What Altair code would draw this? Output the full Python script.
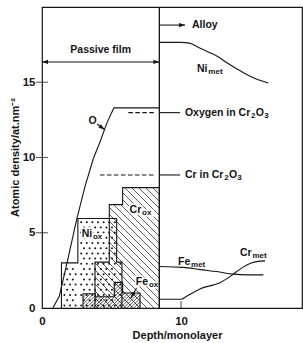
import altair as alt
import numpy as np
import pandas as pd

# ---------------- values ----------------
FILM_END = 8.44            # passive film / alloy boundary (monolayers)
O_IN_CR2O3 = 12.98         # oxygen density expected in Cr2O3
CR_IN_CR2O3 = 8.84         # chromium density expected in Cr2O3

o_depth = [0.78, 1.25, 1.80, 2.50, 3.10, 3.70, 4.20, 4.65, 5.17, 8.44]
o_density = [0.00, 0.80, 3.00, 5.90, 8.10, 9.95, 11.10, 12.25, 13.30, 13.30]

ni_met_depth = [8.44, 10.0, 10.6, 11.3, 12.0, 12.57, 13.3, 14.0, 14.96, 15.6, 16.28]
ni_met_density = [17.65, 17.65, 17.6, 17.3, 17.0, 16.75, 16.3, 15.9, 15.4, 15.15, 14.95]

fe_met_depth = [8.44, 10.17, 11.4, 12.57, 13.76, 14.8, 15.92]
fe_met_density = [2.76, 2.70, 2.55, 2.42, 2.25, 2.20, 2.20]

cr_met_depth = [8.44, 10.0, 10.4, 10.86, 11.4, 11.85, 12.3, 12.8, 13.3, 13.76, 14.2, 14.73, 15.1, 15.45, 16.04]
cr_met_density = [0.58, 0.58, 0.78, 1.02, 1.28, 1.42, 1.52, 1.68, 1.95, 2.25, 2.55, 2.85, 3.00, 3.08, 3.13]

ni_ox_edges = [1.40, 2.58, 5.37, 5.75]
ni_ox_density = [3.00, 5.95, 3.05]
cr_ox_edges = [3.81, 4.84, 5.80, 8.44]
cr_ox_density = [3.05, 6.87, 8.00]
fe_ox_edges = [2.95, 3.85, 5.20, 5.80, 7.05]
fe_ox_density = [0.95, 0.75, 1.70, 1.00]

x_ticks = [0, 10]
y_ticks = [0, 5, 10, 15]

# ---------------- layout / style ----------------
W, H = 260, 301
XMAX, YMAX = 18.7, 20.0
SX, SY = W / XMAX, H / YMAX
INK = "#151515"
FONT = "Liberation Sans"
ARROW = "M0,0L-2,-0.7L-2,0.7Z"

XS = alt.Scale(domain=[0, XMAX], nice=False, zero=False)
YS = alt.Scale(domain=[0, YMAX], nice=False, zero=False)
XAX = alt.Axis(values=x_ticks, title="Depth/monolayer", grid=False, domain=False,
               ticks=False, tickSize=0, labelPadding=7, labelFlush=False,
               titleX=135, titleY=21, titleBaseline="top", titleAlign="center")
YAX = alt.Axis(values=y_ticks, title="Atomic density/at.nm⁻²", grid=False, domain=False,
               ticks=False, tickSize=0, labelPadding=7,
               titleX=-27, titleY=150, titleAngle=270, titleAlign="center",
               titleBaseline="middle")


def xe(f):
    return alt.X(f"{f}:Q", scale=XS, axis=XAX)


def ye(f):
    return alt.Y(f"{f}:Q", scale=YS, axis=YAX)


def hatch(edges, heights, spacing, slope):
    segs = []
    for x0d, x1d, hd in zip(edges[:-1], edges[1:], heights):
        X0, X1, Y0, Y1 = x0d * SX, x1d * SX, 0.0, hd * SY
        if slope < 0:
            k0, k1 = int(np.ceil((X0 + Y0) / spacing)), int(np.floor((X1 + Y1) / spacing))
            for k in range(k0, k1 + 1):
                c = k * spacing
                lo, hi = max(X0, c - Y1), min(X1, c - Y0)
                if hi - lo > 0.05:
                    segs.append((lo / SX, (c - lo) / SY, hi / SX, (c - hi) / SY))
        else:
            k0, k1 = int(np.ceil((Y0 - X1) / spacing)), int(np.floor((Y1 - X0) / spacing))
            for k in range(k0, k1 + 1):
                c = k * spacing
                lo, hi = max(X0, Y0 - c), min(X1, Y1 - c)
                if hi - lo > 0.05:
                    segs.append((lo / SX, (lo + c) / SY, hi / SX, (hi + c) / SY))
    return segs


def dots(edges, heights, step=5.6, row=5.2):
    pts = []
    nrow = int(H / row) + 1
    ncol = int(W / step) + 2
    for j in range(nrow):
        Y = 2.6 + j * row
        off = step / 2 if j % 2 else 0.0
        for i in range(ncol):
            X = i * step + off
            for x0, x1, h in zip(edges[:-1], edges[1:], heights):
                if x0 * SX + 1.5 <= X <= x1 * SX - 1.5 and Y <= h * SY - 1.5:
                    pts.append((X / SX, Y / SY))
                    break
    return pts


def outline(name, edges, heights):
    pts = [(edges[0], 0.0)]
    for i, h in enumerate(heights):
        pts.append((edges[i], h))
        pts.append((edges[i + 1], h))
    pts.append((edges[-1], 0.0))
    return [dict(g=name, i=k, x=p[0], y=p[1]) for k, p in enumerate(pts)]


segs = hatch(cr_ox_edges, cr_ox_density, 7.0, -1) + hatch(fe_ox_edges, fe_ox_density, 3.4, 1)
hatch_df = pd.DataFrame(segs, columns=["x", "y", "x2", "y2"])
dots_df = pd.DataFrame(dots(ni_ox_edges, ni_ox_density), columns=["x", "y"])
outline_df = pd.DataFrame(outline("ni", ni_ox_edges, ni_ox_density)
                          + outline("cr", cr_ox_edges, cr_ox_density)
                          + outline("fe", fe_ox_edges, fe_ox_density))

o_df = pd.DataFrame({"x": o_depth, "y": o_density, "i": range(len(o_depth))})
met_rows = []
for name, xs, ys in [("ni", ni_met_depth, ni_met_density),
                     ("fe", fe_met_depth, fe_met_density),
                     ("cr", cr_met_depth, cr_met_density)]:
    for k, (a, b) in enumerate(zip(xs, ys)):
        met_rows.append(dict(g=name, i=k, x=a, y=b))
met_df = pd.DataFrame(met_rows)

# annotation text fragments (main text + subscripts)
MAIN, SUB = 10.5, 8.0


def frag(t, x, y, size=MAIN):
    return dict(text=t, x=x, y=y, size=size)


def lab(main, sub, x, y, wmain):
    return [frag(main, x, y), frag(sub, x + (wmain + 0.8) / SX, y - 3.0 / SY, SUB)]


texts = []
texts += lab("Ni", "met", 11.15, 15.85, 10.5)
texts += lab("Fe", "met", 9.78, 3.06, 12.25)
texts += lab("Cr", "met", 14.24, 3.65, 11.67)
texts += lab("Ni", "ox", 2.85, 4.90, 10.5)
texts += lab("Cr", "ox", 6.30, 6.51, 11.67)
texts += lab("Fe", "ox", 6.75, 1.75, 12.25)
x0 = FILM_END + 1.84
texts += [frag("Oxygen in Cr", x0, O_IN_CR2O3),
          frag("2", x0 + 66.0 / SX, O_IN_CR2O3 - 3.0 / SY, SUB),
          frag("O", x0 + 70.8 / SX, O_IN_CR2O3),
          frag("3", x0 + 79.2 / SX, O_IN_CR2O3 - 3.0 / SY, SUB)]
texts += [frag("Cr in Cr", x0, CR_IN_CR2O3),
          frag("2", x0 + 39.2 / SX, CR_IN_CR2O3 - 3.0 / SY, SUB),
          frag("O", x0 + 44.0 / SX, CR_IN_CR2O3),
          frag("3", x0 + 52.4 / SX, CR_IN_CR2O3 - 3.0 / SY, SUB)]
texts += [frag("Alloy", 10.79, 18.80)]
text_df = pd.DataFrame(texts)
ctext_df = pd.DataFrame([frag("Passive film", FILM_END / 2, 17.14), frag("O", 3.63, 12.43)])

dashed_df = pd.DataFrame({"x": [6.21, 4.17], "x2": [8.13, 8.13], "y": [O_IN_CR2O3, CR_IN_CR2O3]})
shafts_df = pd.DataFrame({
    "x": [0.0, FILM_END, FILM_END, FILM_END, 3.96, 6.80],
    "x2": [FILM_END, 10.29, 9.93, 9.93, 4.50, 6.40],
    "y": [16.35, 18.80, O_IN_CR2O3, CR_IN_CR2O3, 12.23, 1.33],
    "y2": [16.35, 18.80, O_IN_CR2O3, CR_IN_CR2O3, 11.86, 0.66],
})
heads_df = pd.DataFrame({"x": [0.0, FILM_END, 10.29, 4.50, 6.40],
                         "y": [16.35, 16.35, 18.80, 11.86, 0.66],
                         "angle": [180, 0, 0, 36, 119]})
yt_df = pd.DataFrame({"x": [0, 0, 0], "y": y_ticks[1:]})
xt_df = pd.DataFrame({"x": [10], "y": [0]})

# ---------------- layers ----------------
hatch_l = alt.Chart(hatch_df).mark_rule(color=INK, strokeWidth=0.7).encode(
    x=xe("x"), y=ye("y"), x2="x2:Q", y2="y2:Q")
dots_l = alt.Chart(dots_df).mark_circle(color=INK, size=4, opacity=1).encode(x=xe("x"), y=ye("y"))

txt_common = dict(font=FONT, fontWeight="bold", baseline="middle")
halo_l = alt.Chart(text_df).mark_text(align="left", color="white", stroke="white",
                                      strokeWidth=3, **txt_common).encode(
    x=xe("x"), y=ye("y"), text="text:N", size=alt.Size("size:Q", scale=None, legend=None))
outline_l = alt.Chart(outline_df).mark_line(color=INK, strokeWidth=1.1).encode(
    x=xe("x"), y=ye("y"), detail="g:N", order="i:Q")
o_l = alt.Chart(o_df).mark_line(color=INK, strokeWidth=1.1).encode(x=xe("x"), y=ye("y"), order="i:Q")
met_l = alt.Chart(met_df).mark_line(color=INK, strokeWidth=1.1, interpolate="monotone").encode(
    x=xe("x"), y=ye("y"), detail="g:N", order="i:Q")
vline_l = alt.Chart(pd.DataFrame({"x": [FILM_END]})).mark_rule(color=INK, strokeWidth=1.3).encode(x=xe("x"))
dash_l = alt.Chart(dashed_df).mark_rule(color=INK, strokeWidth=1.1, strokeDash=[4.5, 2.5]).encode(
    x=xe("x"), x2="x2:Q", y=ye("y"))
shaft_l = alt.Chart(shafts_df).mark_rule(color=INK, strokeWidth=1.1).encode(
    x=xe("x"), x2="x2:Q", y=ye("y"), y2="y2:Q")
head_l = alt.Chart(heads_df).mark_point(shape=ARROW, filled=True, size=36, color=INK,
                                        opacity=1, strokeWidth=0).encode(
    x=xe("x"), y=ye("y"), angle=alt.Angle("angle:Q", scale=None))
ytick_l = alt.Chart(yt_df).mark_tick(orient="horizontal", size=12, thickness=1.1, color=INK).encode(
    x=xe("x"), y=ye("y"))
xtick_l = alt.Chart(xt_df).mark_tick(orient="vertical", size=7, thickness=1.1, color=INK,
                                     yOffset=-3.5).encode(x=xe("x"), y=ye("y"))
text_l = alt.Chart(text_df).mark_text(align="left", color=INK, **txt_common).encode(
    x=xe("x"), y=ye("y"), text="text:N", size=alt.Size("size:Q", scale=None, legend=None))
ctext_l = alt.Chart(ctext_df).mark_text(align="center", color=INK, **txt_common).encode(
    x=xe("x"), y=ye("y"), text="text:N", size=alt.Size("size:Q", scale=None, legend=None))

chart = alt.layer(hatch_l, dots_l, halo_l, outline_l, o_l, met_l, vline_l, dash_l, shaft_l,
                  head_l, ytick_l, xtick_l, text_l, ctext_l).properties(
    width=W, height=H,
    autosize=alt.AutoSizeParams(type="none"),
    padding={"left": 42, "top": 7, "right": 1, "bottom": 35},
    background="white",
).configure_view(stroke=INK, strokeWidth=1.2).configure_axis(
    labelFont=FONT, labelFontWeight="bold", labelFontSize=11.5, labelColor=INK,
    titleFont=FONT, titleFontWeight="bold", titleFontSize=11, titleColor=INK,
)

chart.save("out.html", embed_options={"renderer": "svg", "actions": False})
